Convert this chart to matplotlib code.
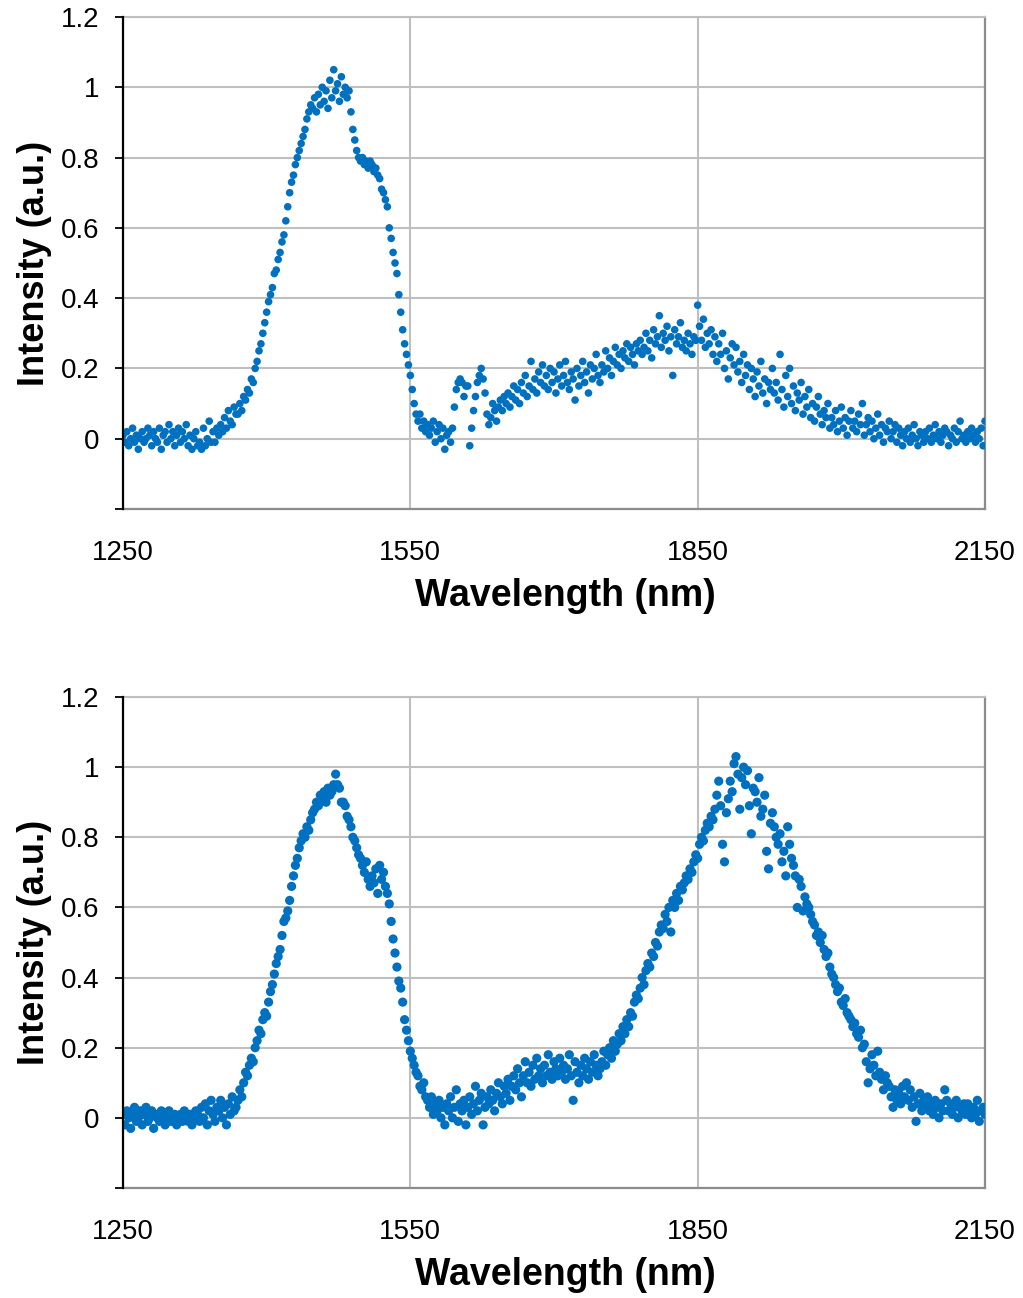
import numpy as np
import matplotlib
matplotlib.use("Agg")
import matplotlib.pyplot as plt

plt.rcParams['font.family'] = ['Liberation Sans', 'DejaVu Sans']

# Wavelength samples (nm)
wavelength = np.arange(1250, 2151, 2)

# Top panel intensities (a.u.), rows of 20 nm starting at the commented wavelength
top_intensity = [
    0.01, -0.01, 0.02, -0.02, 0.00, 0.03, -0.01, 0.01, -0.03, 0.00,   # 1250
    0.02, -0.01, 0.00, 0.03, 0.01, -0.02, 0.02, 0.00, -0.01, 0.03,    # 1270
    -0.03, 0.01, 0.02, -0.01, 0.04, 0.00, 0.02, -0.02, 0.01, 0.03,    # 1290
    -0.01, 0.02, 0.00, 0.04, -0.02, 0.01, -0.03, 0.00, 0.02, -0.02,   # 1310
    -0.01, -0.03, 0.03, -0.02, 0.00, 0.05, -0.01, 0.02, -0.01, 0.03,  # 1330
    0.01, 0.04, 0.02, 0.06, 0.03, 0.08, 0.05, 0.04, 0.09, 0.07,       # 1350
    0.07, 0.10, 0.08, 0.12, 0.11, 0.14, 0.13, 0.17, 0.16, 0.20,       # 1370
    0.22, 0.25, 0.27, 0.30, 0.33, 0.36, 0.39, 0.41, 0.43, 0.47,       # 1390
    0.48, 0.51, 0.53, 0.56, 0.58, 0.62, 0.66, 0.70, 0.73, 0.75,       # 1410
    0.78, 0.80, 0.82, 0.84, 0.86, 0.88, 0.91, 0.93, 0.95, 0.94,       # 1430
    0.97, 0.93, 0.98, 0.95, 1.00, 0.96, 0.99, 0.94, 1.02, 0.97,       # 1450
    1.05, 0.99, 1.01, 0.96, 1.03, 0.98, 1.00, 0.97, 0.99, 0.93,       # 1470
    0.88, 0.85, 0.82, 0.80, 0.79, 0.80, 0.78, 0.79, 0.77, 0.79,       # 1490
    0.78, 0.76, 0.77, 0.75, 0.74, 0.71, 0.70, 0.68, 0.66, 0.60,       # 1510
    0.57, 0.53, 0.50, 0.47, 0.41, 0.36, 0.31, 0.27, 0.24, 0.21,       # 1530
    0.18, 0.14, 0.10, 0.07, 0.05, 0.07, 0.03, 0.05, 0.02, 0.04,       # 1550
    0.01, 0.03, 0.05, -0.01, 0.02, 0.04, 0.00, 0.03, -0.03, 0.01,     # 1570
    0.02, -0.01, 0.03, 0.09, 0.14, 0.16, 0.17, 0.16, 0.12, 0.15,      # 1590
    0.15, -0.02, 0.03, 0.08, 0.12, 0.16, 0.18, 0.20, 0.17, 0.13,      # 1610
    0.07, 0.04, 0.06, 0.10, 0.08, 0.05, 0.09, 0.11, 0.08, 0.12,       # 1630
    0.10, 0.13, 0.09, 0.12, 0.15, 0.11, 0.14, 0.10, 0.16, 0.13,       # 1650
    0.18, 0.12, 0.15, 0.22, 0.14, 0.17, 0.13, 0.19, 0.16, 0.21,       # 1670
    0.15, 0.18, 0.14, 0.20, 0.16, 0.19, 0.13, 0.17, 0.21, 0.15,       # 1690
    0.18, 0.22, 0.16, 0.14, 0.19, 0.17, 0.11, 0.20, 0.15, 0.18,       # 1710
    0.22, 0.16, 0.19, 0.13, 0.21, 0.17, 0.20, 0.24, 0.18, 0.16,       # 1730
    0.21, 0.19, 0.25, 0.20, 0.23, 0.18, 0.22, 0.26, 0.21, 0.24,       # 1750
    0.20, 0.25, 0.23, 0.27, 0.22, 0.26, 0.24, 0.21, 0.27, 0.25,       # 1770
    0.28, 0.24, 0.26, 0.30, 0.25, 0.28, 0.23, 0.31, 0.27, 0.29,       # 1790
    0.35, 0.26, 0.30, 0.28, 0.32, 0.25, 0.29, 0.18, 0.31, 0.27,       # 1810
    0.29, 0.33, 0.26, 0.28, 0.25, 0.30, 0.27, 0.24, 0.29, 0.28,       # 1830
    0.38, 0.32, 0.28, 0.34, 0.26, 0.30, 0.27, 0.31, 0.24, 0.29,       # 1850
    0.22, 0.27, 0.24, 0.30, 0.20, 0.25, 0.17, 0.23, 0.27, 0.21,       # 1870
    0.26, 0.19, 0.22, 0.16, 0.24, 0.18, 0.21, 0.14, 0.20, 0.17,       # 1890
    0.12, 0.19, 0.15, 0.22, 0.13, 0.17, 0.10, 0.16, 0.14, 0.20,       # 1910
    0.13, 0.16, 0.11, 0.24, 0.14, 0.09, 0.18, 0.12, 0.20, 0.10,       # 1930
    0.15, 0.08, 0.13, 0.11, 0.16, 0.07, 0.12, 0.09, 0.14, 0.06,       # 1950
    0.10, 0.05, 0.09, 0.12, 0.07, 0.04, 0.08, 0.06, 0.10, 0.03,       # 1970
    0.06, 0.04, 0.08, 0.02, 0.05, 0.09, 0.03, 0.06, 0.01, 0.05,       # 1990
    0.08, 0.03, 0.05, 0.02, 0.07, 0.04, 0.10, 0.01, 0.04, 0.06,       # 2010
    0.02, 0.05, 0.00, 0.03, 0.07, 0.01, 0.04, -0.01, 0.03, 0.02,      # 2030
    0.05, 0.00, 0.02, 0.04, -0.01, 0.03, 0.01, -0.02, 0.02, 0.00,     # 2050
    0.03, -0.01, 0.01, 0.04, 0.00, -0.02, 0.02, 0.01, -0.01, 0.02,    # 2070
    0.00, 0.03, -0.01, 0.01, 0.04, 0.00, 0.02, -0.01, 0.01, 0.03,     # 2090
    0.02, -0.02, 0.01, 0.00, 0.03, -0.01, 0.02, 0.05, 0.00, 0.01,     # 2110
    -0.01, 0.02, 0.00, 0.03, 0.01, -0.01, 0.02, 0.00, 0.03, -0.02,    # 2130
    0.05,                                                             # 2150
]

# Bottom panel intensities (a.u.)
bottom_intensity = [
    0.01, -0.02, 0.02, 0.00, -0.03, 0.01, 0.03, -0.01, 0.00, 0.02,    # 1250
    -0.02, 0.01, 0.03, -0.01, 0.00, 0.02, -0.03, 0.01, 0.00, -0.01,   # 1270
    0.02, 0.00, -0.02, 0.01, 0.02, -0.01, 0.00, 0.01, -0.02, 0.00,    # 1290
    0.01, -0.01, 0.02, 0.00, -0.01, 0.01, -0.02, 0.00, 0.02, 0.01,    # 1310
    -0.01, 0.03, 0.00, 0.04, -0.02, 0.02, 0.05, 0.01, -0.01, 0.03,    # 1330
    0.02, 0.05, 0.00, 0.03, -0.02, 0.04, 0.01, 0.06, 0.02, 0.03,      # 1350
    0.05, 0.08, 0.06, 0.10, 0.13, 0.12, 0.15, 0.17, 0.16, 0.20,       # 1370
    0.22, 0.25, 0.24, 0.28, 0.30, 0.29, 0.33, 0.36, 0.38, 0.41,       # 1390
    0.44, 0.46, 0.48, 0.52, 0.56, 0.57, 0.59, 0.62, 0.66, 0.69,       # 1410
    0.72, 0.74, 0.77, 0.79, 0.81, 0.80, 0.83, 0.82, 0.85, 0.87,       # 1430
    0.88, 0.90, 0.89, 0.92, 0.91, 0.93, 0.90, 0.94, 0.92, 0.93,       # 1450
    0.95, 0.98, 0.95, 0.94, 0.90, 0.90, 0.89, 0.86, 0.85, 0.83,       # 1470
    0.80, 0.79, 0.77, 0.75, 0.74, 0.72, 0.70, 0.73, 0.68, 0.66,       # 1490
    0.69, 0.67, 0.71, 0.64, 0.72, 0.68, 0.70, 0.66, 0.64, 0.61,       # 1510
    0.56, 0.51, 0.47, 0.43, 0.39, 0.37, 0.33, 0.28, 0.25, 0.22,       # 1530
    0.19, 0.17, 0.15, 0.13, 0.12, 0.09, 0.08, 0.10, 0.06, 0.05,       # 1550
    0.03, 0.06, 0.01, 0.04, 0.02, 0.05, 0.00, 0.03, -0.02, 0.04,      # 1570
    0.02, 0.06, 0.00, 0.03, 0.08, -0.01, 0.04, 0.02, 0.05, -0.02,     # 1590
    0.03, 0.06, 0.01, 0.04, 0.09, 0.02, 0.05, 0.07, -0.02, 0.03,      # 1610
    0.06, 0.04, 0.08, 0.05, 0.02, 0.07, 0.10, 0.06, 0.04, 0.09,       # 1630
    0.07, 0.11, 0.05, 0.09, 0.12, 0.08, 0.14, 0.10, 0.06, 0.12,       # 1650
    0.16, 0.10, 0.13, 0.09, 0.15, 0.11, 0.17, 0.12, 0.14, 0.10,       # 1670
    0.15, 0.12, 0.18, 0.13, 0.11, 0.16, 0.14, 0.12, 0.17, 0.13,       # 1690
    0.15, 0.11, 0.14, 0.18, 0.12, 0.05, 0.16, 0.13, 0.10, 0.15,       # 1710
    0.12, 0.17, 0.14, 0.11, 0.16, 0.13, 0.18, 0.15, 0.12, 0.14,       # 1730
    0.16, 0.19, 0.15, 0.18, 0.20, 0.17, 0.22, 0.19, 0.21, 0.24,       # 1750
    0.22, 0.26, 0.24, 0.28, 0.26, 0.30, 0.29, 0.33, 0.35, 0.34,       # 1770
    0.37, 0.40, 0.38, 0.42, 0.44, 0.43, 0.47, 0.46, 0.50, 0.49,       # 1790
    0.53, 0.55, 0.54, 0.58, 0.56, 0.60, 0.53, 0.62, 0.60, 0.64,       # 1810
    0.62, 0.66, 0.65, 0.67, 0.69, 0.68, 0.71, 0.70, 0.73, 0.75,       # 1830
    0.74, 0.78, 0.80, 0.79, 0.82, 0.84, 0.83, 0.86, 0.85, 0.88,       # 1850
    0.92, 0.96, 0.89, 0.78, 0.73, 0.87, 0.91, 0.96, 0.93, 1.01,       # 1870
    1.03, 0.98, 0.88, 0.97, 1.00, 0.95, 0.99, 0.89, 0.81, 0.94,       # 1890
    0.93, 0.90, 0.97, 0.86, 0.88, 0.92, 0.76, 0.71, 0.84, 0.87,       # 1910
    0.83, 0.80, 0.78, 0.81, 0.73, 0.76, 0.69, 0.83, 0.78, 0.74,       # 1930
    0.72, 0.69, 0.60, 0.68, 0.66, 0.59, 0.63, 0.61, 0.60, 0.58,       # 1950
    0.56, 0.55, 0.52, 0.53, 0.50, 0.52, 0.48, 0.46, 0.47, 0.43,       # 1970
    0.41, 0.40, 0.38, 0.36, 0.37, 0.33, 0.32, 0.34, 0.30, 0.29,       # 1990
    0.28, 0.26, 0.27, 0.24, 0.23, 0.25, 0.20, 0.21, 0.16, 0.10,       # 2010
    0.14, 0.18, 0.15, 0.12, 0.19, 0.13, 0.11, 0.08, 0.12, 0.10,       # 2030
    0.09, 0.06, 0.03, 0.08, 0.05, 0.07, 0.04, 0.09, 0.06, 0.10,       # 2050
    0.05, 0.08, 0.03, 0.06, -0.01, 0.04, 0.07, 0.02, 0.05, 0.03,      # 2070
    0.06, 0.02, 0.04, 0.01, 0.05, 0.03, 0.00, 0.04, 0.02, 0.08,       # 2090
    0.05, 0.02, 0.04, 0.01, 0.03, 0.05, 0.00, 0.03, 0.02, 0.04,       # 2110
    0.01, 0.04, 0.02, 0.00, 0.03, 0.01, 0.05, -0.01, 0.02, 0.03,      # 2130
    0.01,                                                             # 2150
]

x_ticks = [1250, 1550, 1850, 2150]
y_ticks = [-0.2, 0, 0.2, 0.4, 0.6, 0.8, 1, 1.2]
y_tick_labels = ["", "0", "0.2", "0.4", "0.6", "0.8", "1", "1.2"]
x_label = "Wavelength (nm)"
y_label = "Intensity (a.u.)"

blue = "#0070C0"
grid_gray = "#BFBFBF"
frame_gray = "#8C8C8C"

W, H = 1023, 1298
fig = plt.figure(figsize=(W / 100, H / 100), dpi=100)


def make_panel(rect, y, msize):
    ax = fig.add_axes(rect)
    ax.scatter(wavelength, y, s=msize, color=blue, edgecolors="none", zorder=3,
               clip_on=True)
    ax.set_xlim(1250, 2150)
    ax.set_ylim(-0.2, 1.2)
    ax.set_xticks(x_ticks)
    ax.set_xticklabels([str(t) for t in x_ticks])
    ax.set_yticks(y_ticks)
    ax.set_yticklabels(y_tick_labels)
    ax.grid(True, color=grid_gray, linewidth=1.5, zorder=0)
    ax.set_axisbelow(True)
    ax.spines['left'].set_color("black")
    ax.spines['left'].set_linewidth(1.6)
    ax.spines['left'].set_zorder(4)
    for s in ('right', 'bottom'):
        ax.spines[s].set_color(frame_gray)
        ax.spines[s].set_linewidth(1.6)
    ax.spines['top'].set_color(grid_gray)
    ax.spines['top'].set_linewidth(1.5)
    ax.tick_params(axis='y', direction='out', length=6, width=1.3,
                   color="black", pad=11, labelsize=20)
    ax.tick_params(axis='x', length=0, pad=22, labelsize=20)
    ax.set_xlabel(x_label, fontsize=27, fontweight='bold', labelpad=9, x=0.513)
    ax.set_ylabel(y_label, fontsize=26, fontweight='bold', labelpad=6)
    return ax


ax1 = make_panel([123 / W, 1 - 509 / H, 862 / W, 492 / H], top_intensity, 30)
ax2 = make_panel([123 / W, 1 - 1188 / H, 862 / W, 491 / H], bottom_intensity, 44)

fig.savefig("out.png", dpi=100)
